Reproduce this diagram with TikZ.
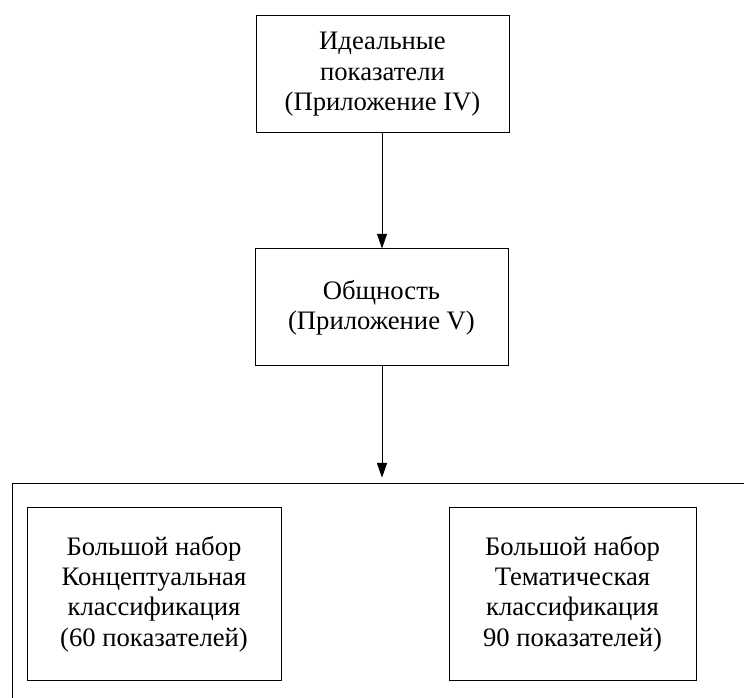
\documentclass[tikz,border=0pt]{standalone}
\usepackage{fontspec}
\setmainfont{Liberation Serif}
\usetikzlibrary{arrows.meta}
\begin{document}
\begin{tikzpicture}[x=0.75pt,y=-0.75pt,
  box/.style={draw, line width=0.75pt, align=center, inner sep=0pt, rectangle,
    font=\fontsize{20}{22.8}\selectfont},
  conn/.style={line width=0.75pt, -{Triangle[length=11pt,width=7.5pt]}}]
\useasboundingbox[fill=white] (0,0) rectangle (744,698);
\clip (0,0) rectangle (744,698);
\node[box, minimum width=189.75pt, minimum height=87.75pt] (ideal) at (382.5,74.5)
  {Идеальные\\показатели\\(Приложение IV)};
\node[box, minimum width=189.75pt, minimum height=87.75pt] (common) at (381.5,307.5)
  {Общность\\(Приложение V)};
\node[box, anchor=north west, minimum width=600pt, minimum height=225pt] (outer) at (12,483) {};
\node[box, minimum width=190.5pt, minimum height=129.75pt] (concept) at (154,594)
  {Большой набор\\Концептуальная\\классификация\\(60 показателей)};
\node[box, minimum width=185.25pt, minimum height=129.75pt] (thematic) at (572.5,594)
  {Большой набор\\Тематическая\\классификация\\90 показателей)};
\draw[conn] (ideal.south -| 382,0) -- (common.north -| 382,0);
\draw[conn, shorten >=4pt] (common.south -| 382,0) -- (outer.north -| 382,0);
\end{tikzpicture}
\end{document}
